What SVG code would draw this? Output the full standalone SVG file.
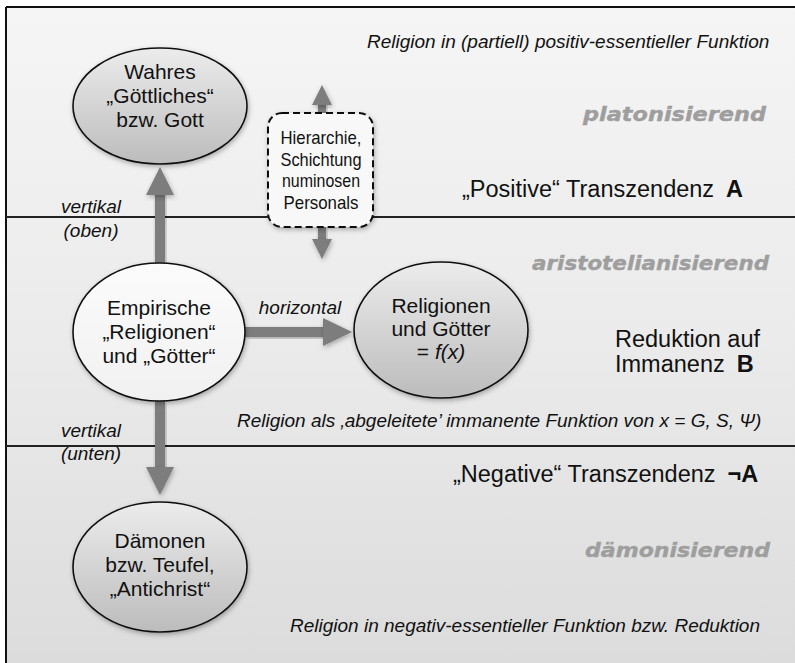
<svg xmlns="http://www.w3.org/2000/svg" width="795" height="663" viewBox="0 0 795 663">
<defs>
  <linearGradient id="bg" x1="0" y1="0" x2="0" y2="1">
    <stop offset="0" stop-color="#f5f5f5"/>
    <stop offset="0.5" stop-color="#ebebeb"/>
    <stop offset="1" stop-color="#dcdcdc"/>
  </linearGradient>
  <linearGradient id="gray" x1="0" y1="0" x2="0" y2="1">
    <stop offset="0" stop-color="#ececec"/>
    <stop offset="1" stop-color="#bcbcbc"/>
  </linearGradient>
  <linearGradient id="white" x1="0" y1="0" x2="0" y2="1">
    <stop offset="0" stop-color="#fbfbfb"/>
    <stop offset="1" stop-color="#f1f1f1"/>
  </linearGradient>
  <filter id="sh" x="-20%" y="-20%" width="140%" height="140%">
    <feDropShadow dx="1" dy="2" stdDeviation="2.5" flood-color="#000" flood-opacity="0.3"/>
  </filter>
  <style>
    .node { stroke:#111; stroke-width:1.6; filter:url(#sh); }
    .nt { font-family:"Liberation Sans", Arial, sans-serif; font-size:21px; fill:#111; text-anchor:middle; }
    .it { font-family:"Liberation Sans", Arial, sans-serif; font-size:19px; font-style:italic; fill:#111; }
    .big { font-family:"Liberation Sans", Arial, sans-serif; font-size:23.5px; fill:#111; }
    .heavy { font-family:"DejaVu Sans", "Liberation Sans", sans-serif; font-size:20px; font-weight:bold; font-style:italic; fill:#9e9e9e; stroke:#9e9e9e; stroke-width:0.4; text-anchor:end; }
    .arrow { fill:#7d7d7d; filter:url(#sh); }
    .div { stroke:#222; stroke-width:2; }
    .box { font-family:"Liberation Sans", Arial, sans-serif; font-size:19px; fill:#111; text-anchor:middle; }
  </style>
</defs>

<!-- background -->
<rect x="0" y="0" width="795" height="663" fill="#ffffff"/>
<rect x="6" y="7" width="789" height="656" fill="url(#bg)"/>
<line x1="6" y1="7" x2="795" y2="7" stroke="#111" stroke-width="2"/>
<line x1="6" y1="7" x2="6" y2="663" stroke="#111" stroke-width="2"/>
<line class="div" x1="6" y1="217" x2="795" y2="217"/>
<line class="div" x1="6" y1="446" x2="795" y2="446"/>

<!-- region texts -->
<text class="it" x="367" y="48" font-size="18.5">Religion in (partiell) positiv-essentieller Funktion</text>
<text class="heavy" x="766" y="121" textLength="183" lengthAdjust="spacingAndGlyphs">platonisierend</text>
<text class="big" x="462" y="197">„Positive“ Transzendenz<tspan dx="12" font-weight="bold">A</tspan></text>
<text class="heavy" x="769" y="270" textLength="237" lengthAdjust="spacingAndGlyphs">aristotelianisierend</text>
<text class="big" x="615" y="347">Reduktion auf</text>
<text class="big" x="615" y="372">Immanenz<tspan dx="12" font-weight="bold">B</tspan></text>
<text class="it" x="237" y="427">Religion als ‚abgeleitete’ immanente Funktion von x = G, S, Ψ)</text>
<text class="big" x="453" y="482">„Negative“ Transzendenz<tspan dx="12" font-weight="bold">¬A</tspan></text>
<text class="heavy" x="770" y="557" textLength="185" lengthAdjust="spacingAndGlyphs">dämonisierend</text>
<text class="it" x="290" y="632">Religion in negativ-essentieller Funktion bzw. Reduktion</text>

<!-- connectors -->
<g id="connectors">
  <g id="edge-up">
    <rect class="arrow" x="155" y="193" width="10" height="70"/>
    <polygon class="arrow" points="146,195 160,167 174,195"/>
  </g>
  <g id="edge-down">
    <rect class="arrow" x="155" y="401" width="10" height="68"/>
    <polygon class="arrow" points="146,467 174,467 160,495"/>
  </g>
  <g id="edge-horizontal">
    <rect class="arrow" x="245" y="327" width="80" height="10"/>
    <polygon class="arrow" points="323,318 352,332 323,346"/>
  </g>
  <g id="edge-hierarchy">
    <rect class="arrow" x="318" y="103" width="8" height="11"/>
    <polygon class="arrow" points="312,105 322,85 332,105"/>
    <rect class="arrow" x="318" y="226" width="8" height="14"/>
    <polygon class="arrow" points="312,239 332,239 322,259"/>
  </g>
  <text class="it" x="91" y="213" text-anchor="middle">vertikal</text>
  <text class="it" x="91" y="237" text-anchor="middle">(oben)</text>
  <text class="it" x="300" y="314" text-anchor="middle">horizontal</text>
  <text class="it" x="91" y="437" text-anchor="middle">vertikal</text>
  <text class="it" x="91" y="460" text-anchor="middle">(unten)</text>
</g>

<!-- nodes -->
<g id="node-wahres">
  <ellipse class="node" cx="160" cy="106" rx="87" ry="58" fill="url(#gray)"/>
  <text class="nt" x="160" y="79">Wahres</text>
  <text class="nt" x="160" y="103">„Göttliches“</text>
  <text class="nt" x="160" y="127">bzw. Gott</text>
</g>

<g id="node-hierarchie">
  <rect x="268" y="113" width="105" height="114" rx="14" fill="#f8f8f8" stroke="#111" stroke-width="2" stroke-dasharray="7 4" filter="url(#sh)"/>
  <text class="box" x="321" y="144" textLength="81" lengthAdjust="spacingAndGlyphs">Hierarchie,</text>
  <text class="box" x="321" y="166" textLength="81" lengthAdjust="spacingAndGlyphs">Schichtung</text>
  <text class="box" x="321" y="187" textLength="78" lengthAdjust="spacingAndGlyphs">numinosen</text>
  <text class="box" x="321" y="209" textLength="75" lengthAdjust="spacingAndGlyphs">Personals</text>
</g>

<g id="node-empirische">
  <ellipse class="node" cx="159" cy="332" rx="86" ry="69" fill="url(#white)"/>
  <text class="nt" x="159" y="315">Empirische</text>
  <text class="nt" x="159" y="339">„Religionen“</text>
  <text class="nt" x="159" y="363">und „Götter“</text>
</g>

<g id="node-religionen">
  <ellipse class="node" cx="441" cy="330" rx="87" ry="68" fill="url(#gray)"/>
  <text class="nt" x="441" y="313">Religionen</text>
  <text class="nt" x="441" y="336">und Götter</text>
  <text class="nt" x="441" y="359">= <tspan font-style="italic">f(x)</tspan></text>
</g>

<g id="node-daemonen">
  <ellipse class="node" cx="160" cy="567" rx="87" ry="65" fill="url(#gray)"/>
  <text class="nt" x="160" y="548">Dämonen</text>
  <text class="nt" x="160" y="572">bzw. Teufel,</text>
  <text class="nt" x="160" y="596">„Antichrist“</text>
</g>
</svg>
